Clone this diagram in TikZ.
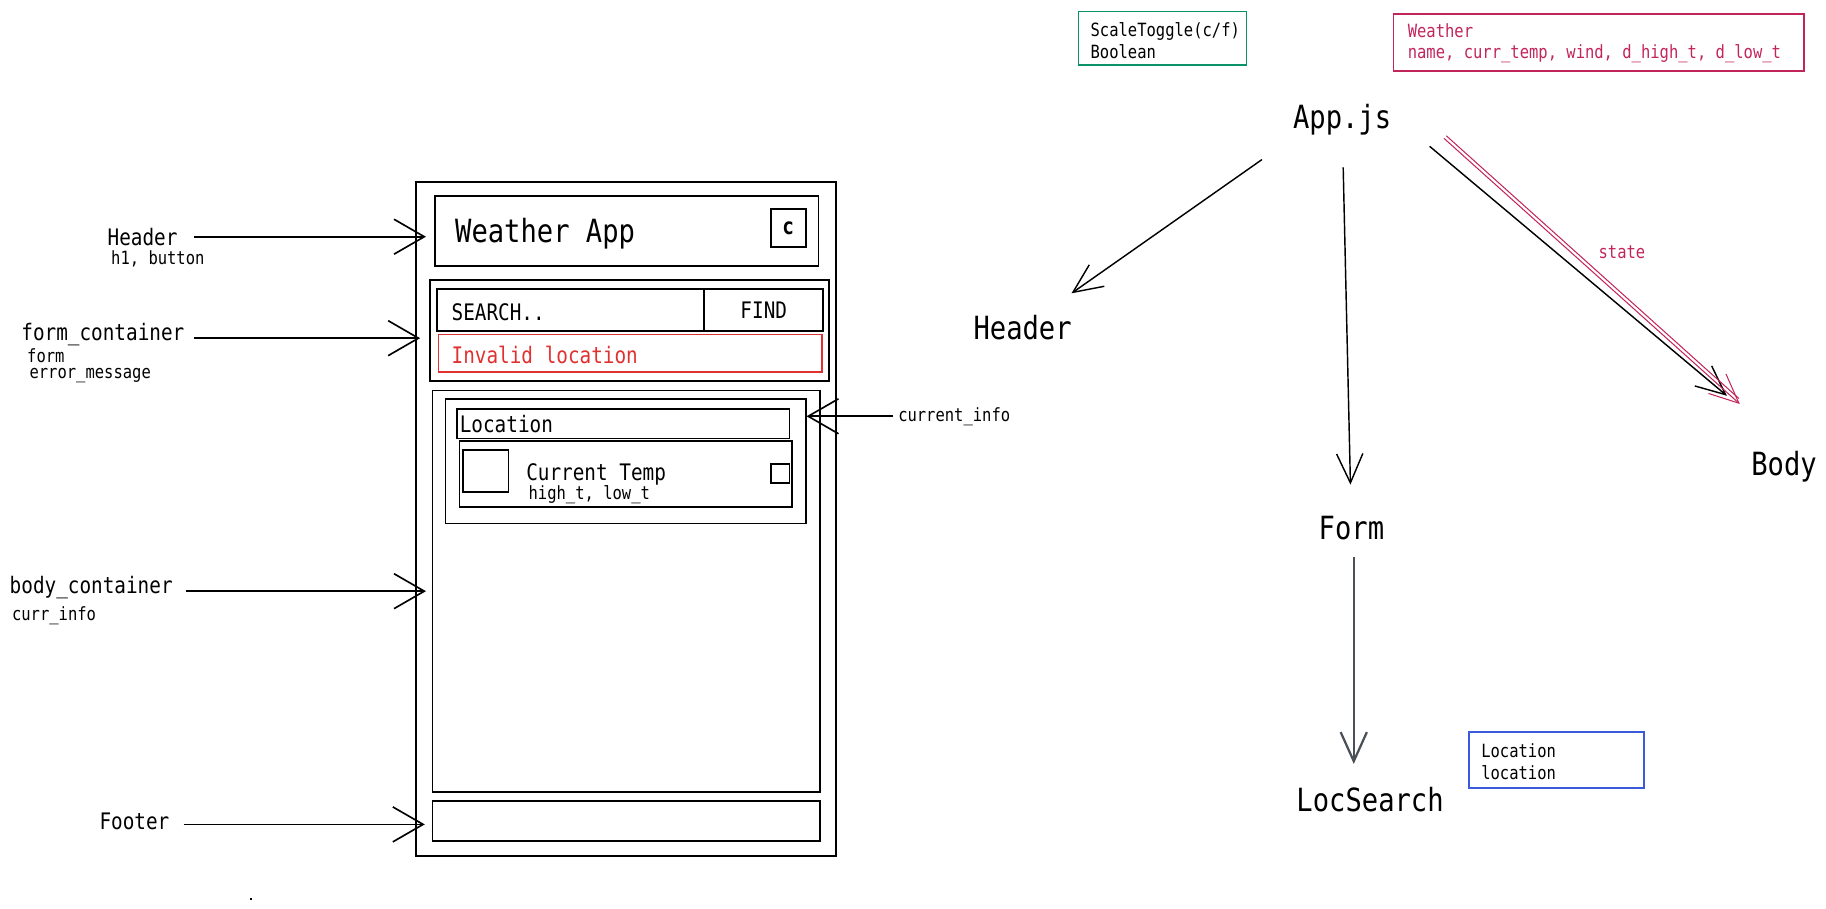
\documentclass[tikz,border=0pt]{standalone}
\usepackage{fontspec}
\usepackage{tikz}
\usetikzlibrary{arrows,arrows.meta,positioning,fit}
\newfontfamily\sketchfont[FakeStretch=0.85]{DejaVu Sans Mono}
\newcommand\fsmall{\sketchfont\fontsize{8.9}{10.5}\selectfont}
\newcommand\fmid{\sketchfont\fontsize{11.1}{13}\selectfont}
\newcommand\fbig{\sketchfont\fontsize{15.6}{18}\selectfont}
\definecolor{sketchgreen}{HTML}{099268}
\definecolor{sketchpink}{HTML}{C2255C}
\definecolor{sketchred}{HTML}{E03131}
\definecolor{sketchblue}{HTML}{3B5BDB}
\definecolor{sketchgray}{HTML}{495057}

\begin{document}
\begin{tikzpicture}[x=0.02cm,y=-0.02cm,
	wire/.style={draw=black,line width=0.8pt,inner sep=0pt},
	note/.style={line width=0.8pt,inner sep=0pt},
	lbl/.style={inner sep=0pt,anchor=west},
	arr/.style={-{Straight Barb[length=5.2mm,width=6mm]},line width=0.8pt},
	flow/.style={-{Straight Barb[length=5mm,width=4.5mm]},line width=0.7pt},
	stateline/.style={draw=sketchpink,line width=0.5pt}]
	\useasboundingbox (0,0) rectangle (1566,779);

	% wireframe
	\node[wire,fit={(357,156)(717,734)}] (phone) {};
	\node[wire,fit={(373,168)(702,228)}] (hdrbox) {};
	\node[lbl] (title) at (390,200) {\fbig Weather App};
	\node[wire,fit={(661,179)(691,212)}] (togglebox) {};
	\node (togglec) at (togglebox) {\fmid\bfseries c};
	\node[wire,fit={(369,240)(711,327)}] (formbox) {};
	\node[wire,fit={(375,248)(604,284)}] (searchbox) {};
	\node[wire,fit={(604,248)(706,284)}] (findbox) {};
	\node[lbl] (searchtxt) at (387,268) {\fmid SEARCH..};
	\node (findtxt) at (findbox) {\fmid FIND};
	\node[wire,draw=sketchred,fit={(376,287)(705,319)}] (errbox) {};
	\node[lbl,text=sketchred] (errtxt) at (387,304) {\fmid Invalid location};
	\node[wire,fit={(371,335)(703,679)}] (bodybox) {};
	\node[wire,fit={(382,342)(691,449)}] (curbox) {};
	\node[wire,fit={(392,351)(677,376)}] (locbox) {};
	\node[lbl] (loctxt) at (394,364) {\fmid Location};
	\node[wire,fit={(394,378)(679,435)}] (tempbox) {};
	\node[wire,fit={(397,386)(436,422)}] (iconbox) {};
	\node[lbl] (temptxt) at (451,407) {\fmid Current Temp};
	\node[lbl] (hilotxt) at (453,424) {\fsmall high\_t, low\_t};
	\node[wire,fit={(661,398)(677,414)}] (unitbox) {};
	\node[wire,fit={(371,687)(703,721)}] (footbox) {};
	\fill (214,770) rectangle (216,772);

	% labels on the left
	\node[lbl] (hdrlbl) at (92,203) {\fmid Header};
	\node[lbl] (hdrsub) at (95,222) {\fsmall h1, button};
	\node[lbl] (formlbl) at (18,287) {\fmid form\_container};
	\node[lbl] (formsub) at (23,305) {\fsmall form};
	\node[lbl] (errsub) at (25,322) {\fsmall error\_message};
	\node[lbl] (bodylbl) at (8,504) {\fmid body\_container};
	\node[lbl] (bodysub) at (10,528) {\fsmall curr\_info};
	\node[lbl] (footlbl) at (85,704) {\fmid Footer};
	\node[lbl] (curlbl) at (770,357) {\fsmall current\_info};

	\draw[arr,shorten <=2.8mm,shorten >=1.4mm] (hdrlbl.east) -- (hdrlbl.east -| hdrbox.west);
	\draw[arr,shorten <=1.6mm,shorten >=1.6mm] ([yshift=-0.6mm]formlbl.east) -- ([yshift=-0.6mm]formlbl.east -| formbox.west);
	\draw[arr,shorten <=2.2mm,shorten >=1mm] ([yshift=-0.6mm]bodylbl.east) -- ([yshift=-0.6mm]bodylbl.east -| bodybox.west);
	\draw[arr,shorten <=2.4mm,shorten >=1.2mm] ([yshift=-0.6mm]footlbl.east) -- ([yshift=-0.6mm]footlbl.east -| footbox.west);
	\draw[arr,shorten <=0.8mm] (curlbl.west) -- (curlbl.west -| curbox.east);

	% components
	\node (app) at (1151,103) {\fbig App.js};
	\node (header) at (877,281) {\fbig Header};
	\node (form) at (1159,453) {\fbig Form};
	\node (body) at (1530,400) {\fbig Body};
	\node (locsearch) at (1175,686) {\fbig LocSearch};

	\node[note,draw=sketchgreen,fit={(925,10)(1069,56)}] (togglenote) {};
	\node[lbl] (toggletxt) at (935,27) {\fsmall ScaleToggle(c/f)};
	\node[lbl] (booltxt) at (935,44) {\fsmall Boolean};
	\node[note,draw=sketchpink,fit={(1195,12)(1547,61)}] (weathernote) {};
	\node[lbl,text=sketchpink] (weathertxt) at (1207,26) {\fsmall Weather};
	\node[lbl,text=sketchpink] (fieldstxt) at (1207,46) {\fsmall name, curr\_temp, wind, d\_high\_t, d\_low\_t};
	\node[note,draw=sketchblue,fit={(1260,628)(1410,676)}] (locnote) {};
	\node[lbl] (locclass) at (1270,644) {\fsmall Location};
	\node[lbl] (locvar) at (1270,663) {\fsmall location};

	\draw[flow,shorten <=5mm,shorten >=4.4mm] (app.south west) -- (header);
	\draw[flow,shorten <=4.2mm,shorten >=4.2mm] (app) -- (form);
	\draw[flow,shorten <=7mm,shorten >=12.8mm] (app.east) -- (body.north);
	\draw[flow,draw=sketchpink,line width=0.5pt,shorten <=10.5mm,shorten >=10.2mm] (app.north east) -- (body.north);
	\draw[stateline,transform canvas={xshift=1.2pt,yshift=1.2pt},shorten <=10.5mm,shorten >=11mm] (app.north east) -- (body.north);
	\node[text=sketchpink] (statelbl) at (1391,216) {\fsmall state};
	\draw[flow,draw=sketchgray,line width=1.1pt,shorten <=5mm,shorten >=2.8mm] ([xshift=0.4mm]form.center) -- ([xshift=0.4mm]form.center |- locsearch.north);
\end{tikzpicture}
\end{document}
